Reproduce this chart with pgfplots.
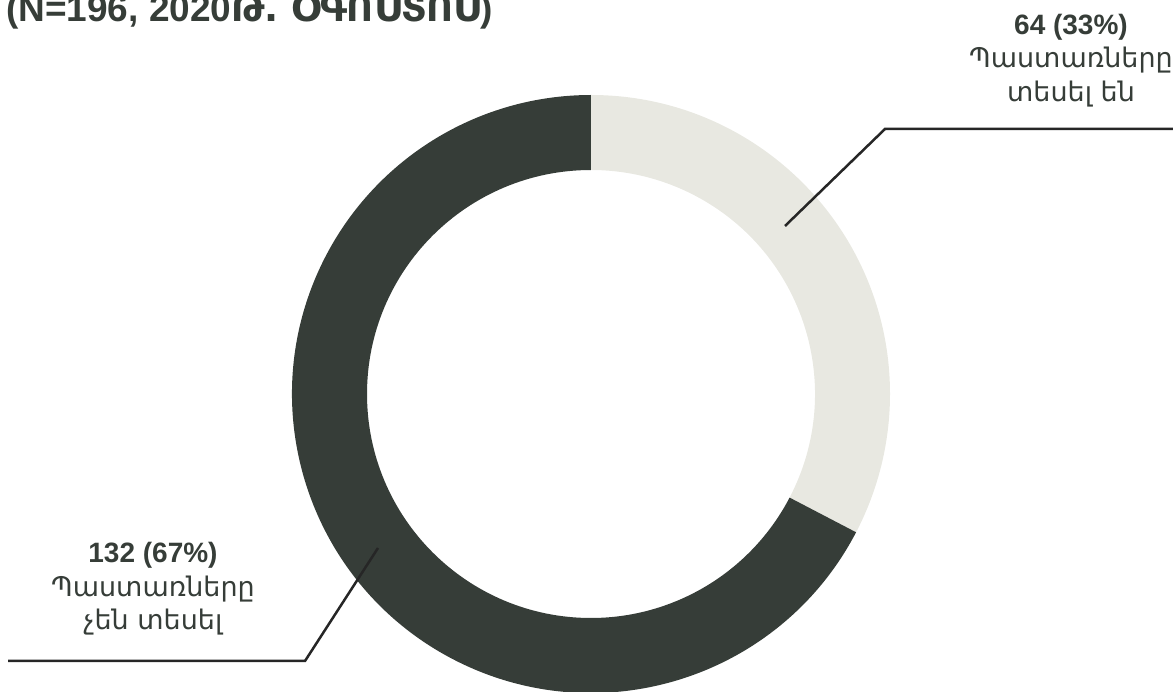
\documentclass[border=0pt]{standalone}
\usepackage{pgfplots}
\pgfplotsset{compat=1.18}
\usepackage{pgfplotstable}
\usepackage{fontspec}
\setmainfont{Liberation Sans}
\newfontfamily\arm{DejaVu Sans}

\definecolor{darkslice}{HTML}{363D38}
\definecolor{lightslice}{HTML}{E8E8E1}
\definecolor{txt}{HTML}{363D38}

% responses: seen / not seen
\pgfplotstableread{
label   value
seen    64
notseen 132
}\ringdata

% ring sector in pixel-like axis units (1 unit = 1pt)
\newcommand{\ringsector}[3]{%
  \fill[#3] ({591+299*cos(#1)},{297+299*sin(#1)})
    arc[start angle=#1, end angle=#2, radius=299]
    -- ({591+224*cos(#2)},{297+224*sin(#2)})
    arc[start angle=#2, end angle=#1, radius=224] -- cycle;}

\begin{document}
\begin{tikzpicture}
\pgfplotstablegetelem{0}{value}\of\ringdata \let\vseen\pgfplotsretval
\pgfplotstablegetelem{1}{value}\of\ringdata \let\vnot\pgfplotsretval
\pgfmathsetmacro{\total}{\vseen+\vnot}
\pgfmathsetmacro{\angB}{90-\vseen/\total*360}
\pgfmathsetmacro{\angC}{\angB-\vnot/\total*360}
\begin{axis}[
    name=ax,
    width=1173pt, height=691pt,
    scale only axis,
    xmin=0, xmax=1173, ymin=0, ymax=691,
    hide axis,
]
\ringsector{90}{\angB}{lightslice}
\ringsector{\angB}{\angC}{darkslice}

% leader lines
\draw[line width=2.5pt, color=black!85] (785,465) -- (885,562) -- (1180,562);
\draw[line width=2.5pt, color=black!85] (378,143) -- (305,30) -- (8,30);

% title (cut at the top)
\node[anchor=base west, text=txt, font=\bfseries\fontsize{37}{40}\selectfont, inner sep=0pt]
  at (6,669) {(N=196, 2020{\arm Թ. ՕԳՈՍՏՈՍ})};

% labels
\node[anchor=base, text=txt, font=\bfseries\fontsize{28}{32}\selectfont, inner sep=0pt]
  at (1071,656) {64 (33\%)};
\node[anchor=base, text=txt, font=\arm\fontsize{27}{30}\selectfont, inner sep=0pt]
  at (1071,623) {Պաստառները};
\node[anchor=base, text=txt, font=\arm\fontsize{27}{30}\selectfont, inner sep=0pt]
  at (1071,589) {տեսել են};

\node[anchor=base, text=txt, font=\bfseries\fontsize{28}{32}\selectfont, inner sep=0pt]
  at (153,128) {132 (67\%)};
\node[anchor=base, text=txt, font=\arm\fontsize{27}{30}\selectfont, inner sep=0pt]
  at (153,94) {Պաստառները};
\node[anchor=base, text=txt, font=\arm\fontsize{27}{30}\selectfont, inner sep=0pt]
  at (153,61) {չեն տեսել};
\end{axis}
\pgfresetboundingbox
\path[use as bounding box] (ax.south west) rectangle (ax.north east);
\end{tikzpicture}
\end{document}
